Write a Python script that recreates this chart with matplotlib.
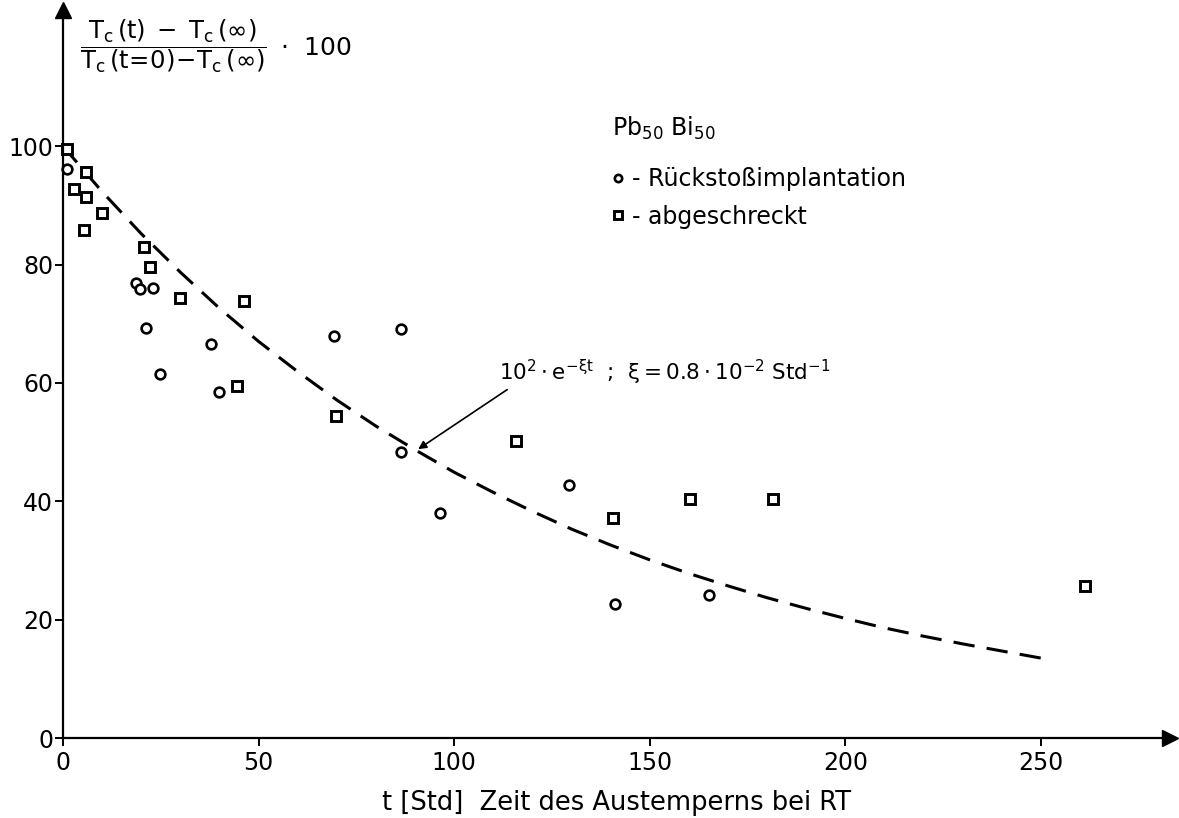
import matplotlib.pyplot as plt
import numpy as np

plt.rcParams['font.family'] = ['DejaVu Sans']
plt.rcParams['mathtext.default'] = 'regular'

# Rückstoßimplantation (circles)
t_rueck = [1.0, 18.6, 19.8, 22.9, 21.2, 24.8, 37.9, 40.0, 69.3, 86.3, 86.3, 96.4, 129.4, 141.2, 165.2]
y_rueck = [96.1, 76.9, 75.8, 76.0, 69.3, 61.5, 66.5, 58.4, 68.0, 69.1, 48.4, 38.0, 42.7, 22.6, 24.2]

# abgeschreckt (squares)
t_abg = [0.9, 5.9, 2.8, 5.8, 10.0, 5.4, 20.8, 22.2, 30.0, 46.2, 44.5, 69.8, 115.8, 140.7, 160.3, 181.4, 261.2]
y_abg = [99.5, 95.6, 92.8, 91.4, 88.7, 85.8, 83.0, 79.6, 74.3, 73.9, 59.5, 54.4, 50.2, 37.1, 40.3, 40.3, 25.7]

# fitted curve (10^2 * exp(-xi t))
t_fit = [0, 10, 20, 30, 40, 50, 60, 70, 80, 90, 100, 110, 120, 130, 140, 150,
         160, 170, 180, 190, 200, 210, 220, 230, 240, 250]
y_fit = [100, 92.3, 85.2, 78.7, 72.6, 67.0, 61.9, 57.1, 52.7, 48.7, 44.9, 41.5, 38.3, 35.3,
         32.6, 30.1, 27.8, 25.7, 23.7, 21.9, 20.2, 18.6, 17.2, 15.9, 14.7, 13.5]

xticks = [0, 50, 100, 150, 200, 250]
yticks = [0, 20, 40, 60, 80, 100]

W, H = 1179, 818
fig = plt.figure(figsize=(W / 100, H / 100), dpi=100)
ax = fig.add_axes([63 / W, 1 - 738 / H, (1170 - 63) / W, (738 - 10) / H])
ax.set_xlim(0, 283)
ax.set_ylim(0, 123)

ax.plot(t_fit, y_fit, color="black", lw=2.2, linestyle=(0, (7, 4)))
ax.plot(t_rueck, y_rueck, "o", ms=7, mfc="white", mec="black", mew=1.9, ls="none",
        label="- Rückstoßimplantation", clip_on=False)
ax.plot(t_abg, y_abg, "s", ms=7, mfc="white", mec="black", mew=2.1, ls="none",
        label="- abgeschreckt", clip_on=False)

for side in ["top", "right"]:
    ax.spines[side].set_visible(False)
for side in ["left", "bottom"]:
    ax.spines[side].set_linewidth(1.6)

ax.plot(1, 0, ">", color="black", ms=11, transform=ax.get_yaxis_transform(), clip_on=False)
ax.plot(0, 1, "^", color="black", ms=11, transform=ax.get_xaxis_transform(), clip_on=False)

ax.set_xticks(xticks)
ax.set_yticks(yticks)
ax.tick_params(axis="both", direction="out", length=6, width=1.4, labelsize=17)
ax.tick_params(axis="y", pad=1)
ax.tick_params(axis="x", pad=3)

ax.set_xlabel("t [Std]  Zeit des Austemperns bei RT", fontsize=18.5, labelpad=11)

fig.text(80 / W, 1 - 46 / H,
         r"$\dfrac{T_c\,(t)\;-\;T_c\,(\infty)}{T_c\,(t\!=\!0)\!-\!T_c\,(\infty)}$",
         fontsize=17.5, ha="left", va="center")
fig.text(280 / W, 1 - 48 / H, r"$\cdot$  100", fontsize=18, ha="left", va="center")

ax.text(140.3, 103, r"Pb$_{50}$ Bi$_{50}$", fontsize=17, ha="left", va="center")
ax.legend(loc="upper left", bbox_to_anchor=(140.0, 96.4), bbox_transform=ax.transData,
          frameon=False, fontsize=17, handlelength=0.6, handletextpad=0.3,
          borderpad=0, borderaxespad=0, labelspacing=0.56, markerscale=0.75)

ax.annotate(r"$10^2\cdot e^{-\xi t}$  ;  $\xi = 0.8\cdot10^{-2}$ Std$^{-1}$",
            xy=(90.8, 48.8), xytext=(111.5, 61.8), fontsize=15.5, ha="left", va="center",
            arrowprops=dict(arrowstyle="-|>", color="black", lw=1.2, mutation_scale=12,
                            shrinkA=0, shrinkB=0, relpos=(0.05, 0.1)))

fig.savefig("out.png", dpi=100)
